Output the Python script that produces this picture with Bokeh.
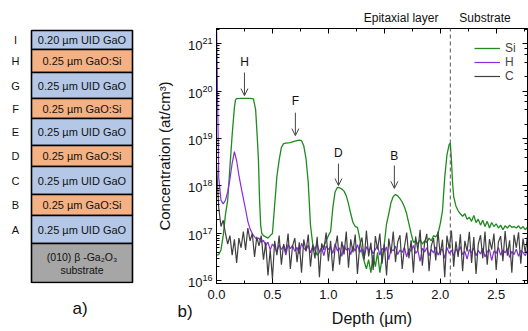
import numpy as np
from bokeh.plotting import figure
from bokeh.models import (Range1d, Label, Arrow, OpenHead, LinearAxis, LogAxis, Title,
                          SingleIntervalTicker, LogTicker, FixedTicker, Legend, LegendItem,
                          PrintfTickFormatter)
from bokeh.layouts import row
from bokeh.embed import file_html
from bokeh.resources import INLINE
from bokeh.core.properties import value

FONT = "Liberation Sans"

# ---------------- data: panel a) layer stack ----------------
layer_letters = ["I", "H", "G", "F", "E", "D", "C", "B", "A"]
layer_desc = ["0.20 µm UID GaO", "0.25 µm GaO:Si", "0.25 µm UID GaO", "0.25 µm GaO:Si",
              "0.25 µm UID GaO", "0.25 µm GaO:Si", "0.25 µm UID GaO", "0.25 µm GaO:Si",
              "0.25 µm UID GaO"]
layer_kind = ["UID", "Si", "UID", "Si", "UID", "Si", "UID", "Si", "UID"]
substrate_lines = ["(010) β -Ga₂O₃", "substrate"]

# ---------------- data: panel b) SIMS profiles ----------------
si_depth = [0.00, 0.02, 0.04, 0.06, 0.08, 0.10, 0.12, 0.14, 0.16, 0.17, 0.18, 0.22, 0.26, 0.30,
            0.33, 0.35, 0.365, 0.375, 0.385, 0.395, 0.405, 0.42, 0.44, 0.46, 0.48, 0.50, 0.52,
            0.54, 0.56, 0.58, 0.60, 0.62, 0.66, 0.70, 0.74, 0.76, 0.78, 0.80, 0.82, 0.84, 0.86,
            0.88, 0.90, 0.92, 0.94, 0.96, 0.98, 1.00, 1.02, 1.04, 1.06, 1.08, 1.10, 1.12, 1.14,
            1.16, 1.18, 1.20, 1.22, 1.24, 1.26, 1.28, 1.30, 1.32, 1.34, 1.36, 1.38, 1.40, 1.42,
            1.44, 1.46, 1.48, 1.50, 1.52, 1.54, 1.56, 1.58, 1.60, 1.62, 1.64, 1.66, 1.68, 1.70,
            1.72, 1.74, 1.76, 1.78, 1.80, 1.82, 1.84, 1.86, 1.88, 1.90, 1.92, 1.94, 1.96, 1.98,
            2.00, 2.02, 2.04, 2.06, 2.08, 2.09, 2.10, 2.11, 2.12, 2.14, 2.16, 2.18, 2.20, 2.22,
            2.24, 2.26, 2.28, 2.30, 2.32, 2.34, 2.36, 2.38, 2.40, 2.42, 2.44, 2.46, 2.48, 2.50,
            2.52, 2.54, 2.56, 2.58, 2.60, 2.62, 2.64, 2.66, 2.68, 2.70, 2.72, 2.74, 2.76, 2.78]
si_conc = [3.5e16, 3.6e16, 4.5e16, 9.0e16, 2.5e17, 5.0e17, 2.5e18, 1.2e19, 4.5e19, 6.5e19,
           6.9e19, 7.0e19, 7.0e19, 7.0e19, 6.8e19, 4.0e19, 1.0e19, 3.5e18, 5.0e17, 1.5e17,
           1.0e17, 9.0e16, 8.5e16, 8.0e16, 9.0e16, 1.0e17, 4.0e17, 1.6e18, 3.5e18, 6.5e18,
           7.8e18, 8.0e18, 8.2e18, 8.8e18, 9.2e18, 9.0e18, 7.0e18, 3.8e18, 1.2e18, 1.5e17,
           6.0e16, 4.5e16, 3.5e16, 4.0e16, 5.0e16, 5.5e16, 7.0e16, 9.0e16, 1.1e17, 3.5e17,
           7.5e17, 9.3e17, 9.2e17, 8.6e17, 7.8e17, 6.2e17, 4.2e17, 2.6e17, 1.7e17, 1.4e17,
           1.35e17, 8.0e16, 4.0e16, 2.6e16, 1.8e16, 2.8e16, 1.5e16, 3.5e16, 2.0e16, 4.0e16,
           1.5e16, 3.0e16, 6.0e16, 1.6e17, 2.6e17, 4.5e17, 6.0e17, 6.6e17, 6.2e17, 5.4e17,
           4.6e17, 3.6e17, 2.6e17, 1.6e17, 1.0e17, 6.5e16, 7.0e16, 6.0e16, 7.5e16, 6.0e16,
           7.0e16, 6.5e16, 8.0e16, 7.0e16, 9.0e16, 8.5e16, 1.0e17, 1.6e17, 3.0e17, 1.5e18,
           4.5e18, 7.5e18, 8.0e18, 3.5e18, 1.2e18, 6.0e17, 3.8e17, 3.0e17, 2.6e17, 2.3e17,
           2.6e17, 2.0e17, 2.2e17, 1.8e17, 2.4e17, 1.7e17, 2.0e17, 1.5e17, 1.9e17, 1.4e17,
           1.8e17, 1.3e17, 1.7e17, 1.4e17, 1.6e17, 1.3e17, 1.5e17, 1.2e17, 1.45e17, 1.3e17,
           1.5e17, 1.35e17, 1.4e17, 1.3e17, 1.45e17, 1.25e17, 1.4e17, 1.2e17, 1.35e17]

# H and C were measured on a regular 0.02 um depth grid
hc_depth = np.round(np.arange(140) * 0.02, 2)
h_conc = [3e21, 1.5e18, 5.0e17, 4.2e17, 5.0e17, 7.5e17, 1.4e18, 3.0e18, 5.3e18, 3.4e18,
          1.7e18, 9.5e17, 5.5e17, 3.2e17, 1.8e17, 1.25e17, 1.0e17, 8.5e16, 7.5e16, 8.0e16,
          6.5e16, 7.2e16, 5.5e16, 6.6e16, 4.5e16, 6.0e16, 5.2e16, 4.0e16, 5.8e16, 4.6e16,
          5.4e16, 3.5e16, 5.9e16, 4.8e16, 5.6e16, 4.2e16, 5.1e16, 3.7e16, 6.2e16, 4.9e16,
          4.4e16, 5.7e16, 3.9e16, 5.3e16, 4.7e16, 6.0e16, 4.1e16, 5.0e16, 3.4e16, 5.5e16,
          4.6e16, 5.2e16, 3.8e16, 6.1e16, 4.3e16, 5.0e16, 3.3e16, 5.6e16, 4.5e16, 4.9e16,
          3.6e16, 5.4e16, 4.2e16, 5.8e16, 4.0e16, 4.8e16, 3.1e16, 5.3e16, 4.4e16, 5.0e16,
          3.7e16, 4.6e16, 5.5e16, 3.5e16, 4.9e16, 4.1e16, 5.2e16, 2.8e16, 4.7e16, 4.3e16,
          5.4e16, 3.6e16, 4.5e16, 4.0e16, 5.1e16, 3.2e16, 4.8e16, 4.2e16, 5.6e16, 3.8e16,
          4.4e16, 2.6e16, 4.9e16, 4.1e16, 5.0e16, 3.4e16, 4.6e16, 3.9e16, 5.2e16, 3.5e16,
          4.3e16, 4.7e16, 3.0e16, 5.1e16, 3.8e16, 4.5e16, 3.3e16, 4.8e16, 4.0e16, 5.3e16,
          3.6e16, 4.2e16, 2.9e16, 4.6e16, 3.9e16, 5.0e16, 3.4e16, 4.4e16, 3.7e16, 4.9e16,
          3.2e16, 4.1e16, 4.6e16, 2.7e16, 4.3e16, 3.8e16, 5.1e16, 3.5e16, 4.5e16, 3.9e16,
          4.8e16, 3.1e16, 4.2e16, 3.6e16, 4.7e16, 3.3e16, 4.4e16, 4.0e16, 3.4e16, 4.6e16]
c_conc = [3.0e18, 3.5e17, 1.4e17, 1.9e17, 1.0e17, 6.0e16, 9.0e16, 3.5e16, 7.5e16, 2.4e16,
          8.0e16, 5.0e16, 1.1e17, 4.5e16, 1.3e17, 7.0e16, 1.0e17, 3.2e16, 8.5e16, 5.5e16,
          9.0e16, 2.8e16, 6.5e16, 1.3e16, 4.5e16, 1.1e16, 7.0e16, 3.5e16, 9.0e16, 2.2e16,
          6.0e16, 4.0e16, 1.0e17, 1.8e16, 5.5e16, 8.0e16, 2.5e16, 6.5e16, 1.5e16, 7.5e16,
          4.2e16, 9.5e16, 2.0e16, 5.8e16, 3.0e16, 8.5e16, 1.2e16, 6.2e16, 4.5e16, 1.05e17,
          2.6e16, 7.0e16, 1.6e16, 5.0e16, 9.0e16, 2.2e16, 6.8e16, 3.6e16, 1.1e17, 1.9e16,
          7.5e16, 4.0e16, 9.5e16, 1.4e16, 5.6e16, 8.2e16, 2.8e16, 1.15e17, 3.3e16, 6.4e16,
          1.7e16, 8.8e16, 4.6e16, 1.0e17, 2.3e16, 6.0e16, 1.3e16, 7.8e16, 3.8e16, 1.1e17,
          2.5e16, 6.6e16, 9.2e16, 1.8e16, 5.2e16, 1.05e17, 3.0e16, 7.2e16, 1.5e16, 8.6e16,
          4.4e16, 1.2e17, 2.1e16, 6.3e16, 9.8e16, 1.6e16, 5.5e16, 8.0e16, 2.7e16, 1.1e17,
          3.5e16, 7.4e16, 1.2e16, 9.0e16, 4.8e16, 1.15e17, 2.0e16, 6.8e16, 3.2e16, 9.6e16,
          1.6e16, 7.0e16, 4.2e16, 1.08e17, 2.4e16, 8.4e16, 1.4e16, 6.0e16, 9.2e16, 3.0e16,
          1.1e17, 2.2e16, 7.6e16, 4.6e16, 1.0e17, 1.7e16, 6.6e16, 8.8e16, 2.6e16, 1.12e17,
          3.4e16, 7.2e16, 1.5e16, 9.4e16, 5.0e16, 1.06e17, 2.3e16, 7.8e16, 4.0e16, 8.6e16]

# peak markers (label, depth, arrow start, arrow tip, label height)
peak_labels = ["H", "F", "D", "B"]
peak_depth = [0.25, 0.705, 1.09, 1.59]
arrow_top = [2.45e20, 3.5e19, 2.95e18, 2.7e18]
arrow_tip = [8.0e19, 1.15e19, 1.02e18, 8.9e17]
label_conc = [4.0e20, 6.3e19, 5.0e18, 4.2e18]

interface_depth = 2.09
region_names = ["Epitaxial layer", "Substrate"]
region_centers = [1.65, 2.40]

H_TOTAL = 331
TOP, BOTTOM = 28, 48

# ---------------- panel a) ----------------
blue, orange, grey = "#b4c7e7", "#f4b183", "#a6a6a6"
edges = [30, 49, 72, 98, 118, 145, 166, 194, 215, 243, 282]   # schematic layout, px units
tops = edges[:-2]
bottoms = edges[1:-1]
centers = [(a + b) / 2 for a, b in zip(tops, bottoms)]
fills = [blue if k == "UID" else orange for k in layer_kind]

pa = figure(width=150, height=H_TOTAL, x_range=Range1d(0, 150),
            y_range=Range1d(H_TOTAL - BOTTOM, TOP),
            output_backend="svg", toolbar_location=None,
            min_border_left=0, min_border_right=0, min_border_top=TOP,
            min_border_bottom=BOTTOM, x_axis_location=None, y_axis_location=None)
pa.grid.visible = False
pa.outline_line_color = None
pa.quad(left=31, right=132, top=tops, bottom=bottoms, fill_color=fills,
        line_color="black", line_width=1.6)
pa.quad(left=31, right=132, top=edges[-2], bottom=edges[-1], fill_color=grey,
        line_color="black", line_width=1.6)
pa.text(x=81.5, y=centers, text=layer_desc, text_align="center", text_baseline="middle",
        text_font=value(FONT), text_font_size="11px", text_color="#111111")
pa.text(x=15, y=centers, text=layer_letters, text_align="center", text_baseline="middle",
        text_font=value(FONT), text_font_size="11px", text_color="#111111")
sub_mid = (edges[-2] + edges[-1]) / 2
pa.text(x=81.5, y=[sub_mid - 6, sub_mid + 7], text=substrate_lines, text_align="center",
        text_baseline="middle", text_font=value(FONT), text_font_size="10.5px",
        text_color="#111111")
pa.add_layout(Title(text="a)", align="left", offset=72, standoff=26, text_font=FONT,
                    text_font_size="17px", text_font_style="normal", text_color="#111111"),
              "below")

# ---------------- panel b) ----------------
ymin, ymax = 8.85e15, 2.07e21
p = figure(width=378, height=H_TOTAL, x_range=Range1d(0, 2.78), y_range=Range1d(ymin, ymax),
           y_axis_type="log", output_backend="svg", toolbar_location=None,
           min_border_left=66, min_border_right=1, min_border_top=TOP,
           min_border_bottom=BOTTOM)
p.grid.visible = False
p.outline_line_color = "black"
p.background_fill_color = "white"

r_si = p.line(si_depth, si_conc, line_color="#1f8a1f", line_width=1.3)
r_h = p.line(hc_depth, h_conc, line_color="#8a2be2", line_width=1.2)
r_c = p.line(hc_depth, c_conc, line_color="#404040", line_width=1.2)

def style(ax, labels=True):
    ax.axis_line_color = "black"
    ax.major_tick_in = 5
    ax.major_tick_out = 0
    ax.minor_tick_in = 3
    ax.minor_tick_out = 0
    ax.major_tick_line_color = "black"
    ax.minor_tick_line_color = "black"
    ax.major_label_text_font = FONT
    ax.major_label_text_color = "#111111"
    ax.axis_label_text_font = FONT
    ax.axis_label_text_font_style = "normal"
    ax.axis_label_text_color = "#111111"
    if labels:
        ax.major_label_text_font_size = "13px"
    else:
        ax.major_label_text_font_size = "1px"
        ax.major_label_text_alpha = 0
        ax.major_label_standoff = 0

p.xaxis.ticker = SingleIntervalTicker(interval=0.5, num_minor_ticks=2)
p.xaxis.formatter = PrintfTickFormatter(format="%.1f")
style(p.xaxis[0])
p.xaxis.axis_label = "Depth (µm)"
p.xaxis.axis_label_text_font_size = "16px"
p.xaxis.axis_label_standoff = 8
p.xaxis.major_label_standoff = 6

style(p.yaxis[0])
p.yaxis.axis_label = "Concentration (at/cm³)"
p.yaxis.axis_label_text_font_size = "15px"
p.yaxis.axis_label_standoff = 12
p.yaxis.major_label_standoff = 4

top_ax = LinearAxis(ticker=SingleIntervalTicker(interval=0.5, num_minor_ticks=2))
style(top_ax, labels=False)
p.add_layout(top_ax, "above")
# region names above the frame
region_ax = LinearAxis(ticker=FixedTicker(ticks=region_centers, minor_ticks=[]),
                       major_label_overrides=dict(zip(region_centers, region_names)))
region_ax.axis_line_alpha = 0
region_ax.major_tick_in = 0
region_ax.major_tick_out = 0
region_ax.major_label_standoff = 4
region_ax.major_label_text_font = FONT
region_ax.major_label_text_font_size = "12px"
region_ax.major_label_text_color = "#111111"
p.add_layout(region_ax, "above")

right_ax = LogAxis(ticker=LogTicker())
style(right_ax, labels=False)
p.add_layout(right_ax, "right")

# interface dashed line
p.add_layout(Arrow(end=None, x_start=interface_depth, y_start=ymin, x_end=interface_depth,
                   y_end=4.9e21, line_color="#555555", line_width=1, line_dash="4 3"))

for lab, d, a0, a1, ly in zip(peak_labels, peak_depth, arrow_top, arrow_tip, label_conc):
    p.add_layout(Arrow(end=OpenHead(size=7, line_color="#444444", line_width=1),
                       x_start=d, y_start=a0, x_end=d, y_end=a1,
                       line_color="#444444", line_width=1))
    p.add_layout(Label(x=d, y=ly, text=lab, text_align="center", text_baseline="middle",
                       text_font=FONT, text_font_size="12px", text_color="#111111"))

# panel tag "b)" placed in the bottom panel, pulled up beside the axis label
p.add_layout(Title(text="b)", align="left", offset=-39, standoff=-56, vertical_align="top",
                   text_font=FONT, text_font_size="17px", text_font_style="normal",
                   text_color="#111111"),
             "below")

legend = Legend(items=[LegendItem(label="Si", renderers=[r_si]),
                       LegendItem(label="H", renderers=[r_h]),
                       LegendItem(label="C", renderers=[r_c])],
                location=(254, 196), border_line_alpha=0, background_fill_alpha=0,
                label_text_font=FONT, label_text_font_size="12px", glyph_width=26,
                glyph_height=14, label_height=14, spacing=0, padding=4, margin=0,
                label_standoff=5)
p.add_layout(legend)

layout = row(pa, p)
open("out.html", "w").write(file_html(layout, INLINE))
